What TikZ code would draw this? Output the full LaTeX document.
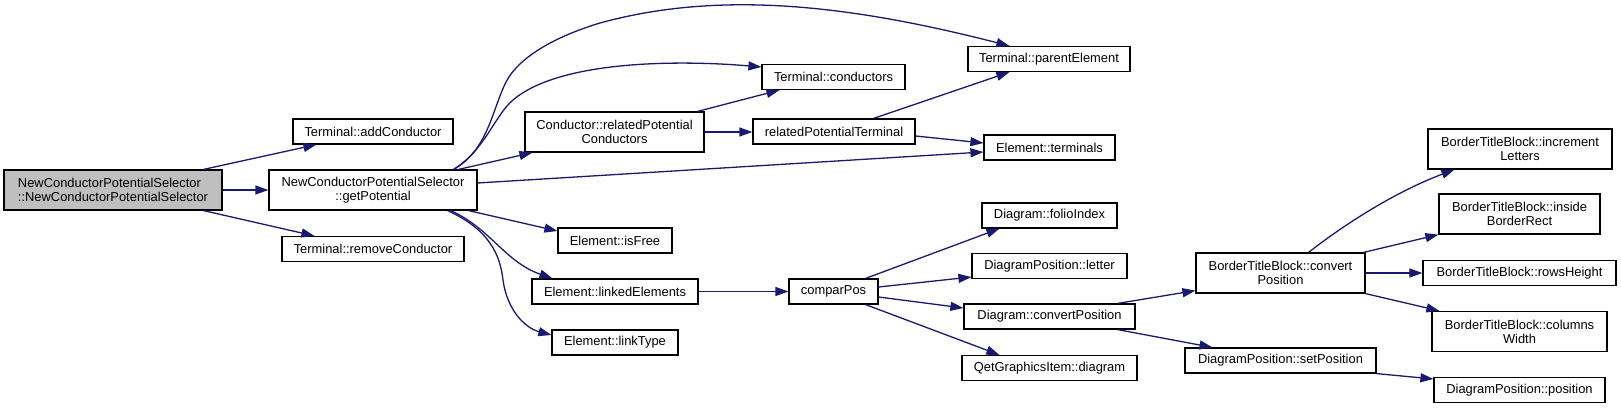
\documentclass[tikz,border=0pt]{standalone}
\usepackage{fontspec}
\setmainfont{Liberation Sans}
\usetikzlibrary{arrows.meta}
\definecolor{edgeblue}{HTML}{191970}
\definecolor{maingray}{HTML}{BFBFBF}
\begin{document}
\begin{tikzpicture}[x=1pt,y=-1pt,
  box/.style={draw=black, line width=1.2pt, rectangle, inner sep=0pt, align=center,
    minimum height=25pt, font=\fontsize{12.9}{14}\selectfont},
  tall/.style={minimum height=40pt},
  edge/.style={draw=edgeblue, line width=1.3pt, -{Triangle[length=13pt,width=9pt]}, fill=none}
]
\useasboundingbox (0,0) rectangle (1621,409);

% rank 1
\node[box, tall, minimum width=218pt, fill=maingray, align=left] (main) at (113,190)
  {NewConductorPotentialSelector\\::NewConductorPotentialSelector};
% rank 2
\node[box, minimum width=160pt] (addC) at (373,131.5) {Terminal::addConductor};
\node[box, tall, minimum width=208pt] (gp) at (373,190) {NewConductorPotentialSelector\\::getPotential};
\node[box, minimum width=182pt] (remC) at (373,249) {Terminal::removeConductor};
% rank 3
\node[box, tall, minimum width=179pt] (rc) at (614.5,132) {Conductor::relatedPotential\\Conductors};
\node[box, minimum width=114pt] (isf) at (615,240.5) {Element::isFree};
\node[box, minimum width=166pt] (le) at (615,291.5) {Element::linkedElements};
\node[box, minimum width=126pt] (lt) at (615,342.5) {Element::linkType};
% rank 4
\node[box, minimum width=143pt] (tc) at (833.5,77) {Terminal::conductors};
\node[box, minimum width=162pt] (rt) at (834,131.5) {relatedPotentialTerminal};
\node[box, minimum width=89pt] (cp) at (833.5,291.5) {comparPos};
% rank 5
\node[box, minimum width=162pt] (pe) at (1049,59) {Terminal::parentElement};
\node[box, minimum width=131pt] (et) at (1049.5,147.5) {Element::terminals};
\node[box, minimum width=135pt] (fi) at (1049.5,215.5) {Diagram::folioIndex};
\node[box, minimum width=155pt] (dl) at (1049.5,266) {DiagramPosition::letter};
\node[box, minimum width=171pt] (dc) at (1049.5,316.5) {Diagram::convertPosition};
\node[box, minimum width=175pt] (qd) at (1049.5,368) {QetGraphicsItem::diagram};
% rank 6
\node[box, tall, minimum width=169pt] (bc) at (1280.5,273) {BorderTitleBlock::convert\\Position};
\node[box, minimum width=191pt] (sp) at (1280.5,360.5) {DiagramPosition::setPosition};
% rank 7
\node[box, tall, minimum width=184pt] (il) at (1520,149) {BorderTitleBlock::increment\\Letters};
\node[box, tall, minimum width=161pt] (ib) at (1519.5,214) {BorderTitleBlock::inside\\BorderRect};
\node[box, minimum width=193pt] (rh) at (1519.5,273) {BorderTitleBlock::rowsHeight};
\node[box, tall, minimum width=175pt] (cw) at (1519.5,331.5) {BorderTitleBlock::columns\\Width};
\node[box, minimum width=171pt] (pos) at (1519.5,390) {DiagramPosition::position};

% edges from main
\draw[edge] ([xshift=-19pt]main.north east) -- ([xshift=24pt]addC.south west);
\draw[edge] (main.east) -- (gp.west);
\draw[edge] ([xshift=-19pt]main.south east) -- ([xshift=33pt]remC.north west);

% edges from getPotential
\draw[edge] ([xshift=-19pt]gp.north east) -- ([xshift=8pt]rc.south west);
\draw[edge] ([xshift=-24pt]gp.north east) .. controls (485,150) and (495,115) .. (513,100)
  .. controls (560,60) and (680,60) .. ([yshift=10pt]tc.west);
\draw[edge] ([xshift=-24pt]gp.north east) .. controls (488,150) and (492,110) .. (506,82)
  .. controls (520,55) and (560,35) .. (600,23)
  .. controls (720,-10) and (850,5) .. ([xshift=42pt]pe.north west);
\draw[edge] ([yshift=7pt]gp.east) -- ([yshift=-4.5pt]et.west);
\draw[edge] ([xshift=-9pt]gp.south east) -- ([yshift=9.5pt]isf.west);
\draw[edge] ([xshift=-27pt]gp.south east) .. controls (490,228) and (505,262) .. ([xshift=21pt]le.north west);
\draw[edge] ([xshift=-30pt]gp.south east) .. controls (490,230) and (500,255) .. (503,280)
  .. controls (507,310) and (525,328) .. ([yshift=7.5pt]lt.west);

% edges from relatedPotentialConductors
\draw[edge] ([xshift=-7pt]rc.north east) -- ([xshift=18pt]tc.south west);
\draw[edge] (rc.east) -- (rc.east -| rt.west);

% edges from relatedPotentialTerminal
\draw[edge] ([xshift=-42pt]rt.north east) -- ([xshift=42pt]pe.south west);
\draw[edge] ([yshift=-4.5pt]rt.east) -- ([yshift=4.5pt]et.west);

% linkedElements -> comparPos
\draw[edge] (le.east) -- (cp.west);

% edges from comparPos
\draw[edge] ([xshift=-13pt]cp.north east) -- ([xshift=18pt]fi.south west);
\draw[edge] ([yshift=4.5pt]cp.east) -- ([yshift=-11pt]dl.west);
\draw[edge] ([yshift=-5.5pt]cp.east) -- ([yshift=8.5pt]dc.west);
\draw[edge] ([xshift=-13pt]cp.south east) -- ([xshift=38pt]qd.north west);

% edges from Diagram::convertPosition
\draw[edge] ([xshift=-18pt]dc.north east) -- ([yshift=3pt]bc.south west);
\draw[edge] ([xshift=-18pt]dc.south east) -- ([xshift=28pt]sp.north west);

% edges from BorderTitleBlock::convertPosition
\draw[edge] ([xshift=-57pt]bc.north east) .. controls (1350,220) and (1400,190) .. ([xshift=27pt]il.south west);
\draw[edge] ([xshift=-2pt]bc.north east) -- (ib.south west);
\draw[edge] (bc.east) -- (bc.east -| rh.west);
\draw[edge] (bc.south east) -- ([xshift=8pt]cw.north west);

% setPosition -> position
\draw[edge] (sp.south east) -- ([yshift=11pt]pos.west);
\end{tikzpicture}
\end{document}
